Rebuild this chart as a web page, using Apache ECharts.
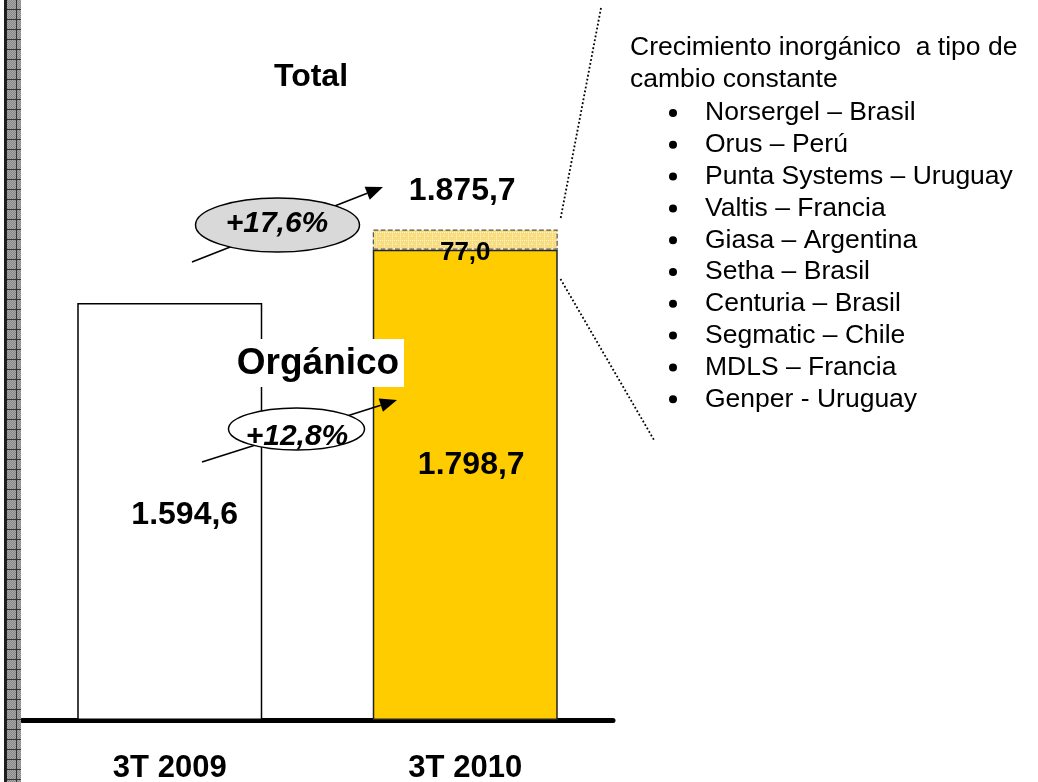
<!DOCTYPE html>
<html>
<head>
<meta charset="utf-8">
<script src="https://cdn.jsdelivr.net/npm/echarts@6/dist/echarts.min.js"></script>
<style>
  html, body { margin: 0; padding: 0; background: #fff; }
  #main { width: 1038px; height: 782px; }
</style>
</head>
<body>
<div id="main"></div>
<script>
// datos
const categories = ['3T 2009', '3T 2010'];
const organico = [1594.6, 1798.7];
const inorganico = [null, 77.0];
const total = [null, 1875.7];
const crecTotal = '+17,6%';
const crecOrganico = '+12,8%';
const tituloInorg = ['Crecimiento inorgánico  a tipo de', 'cambio constante'];
const adquisiciones = [
  'Norsergel – Brasil',
  'Orus – Perú',
  'Punta Systems – Uruguay',
  'Valtis – Francia',
  'Giasa – Argentina',
  'Setha – Brasil',
  'Centuria – Brasil',
  'Segmatic – Chile',
  'MDLS – Francia',
  'Genper - Uruguay'
];

const FONT = '"Liberation Sans", Arial, sans-serif';

// 1.594,6
function fmt(v) {
  let parts = v.toFixed(1).split('.');
  let ent = parts[0].replace(/\B(?=(\d{3})+(?!\d))/g, '.');
  return ent + ',' + parts[1];
}

// trama del tramo inorganico
function tramaAmarilla() {
  let c = document.createElement('canvas');
  c.width = 8; c.height = 8;
  let g = c.getContext('2d');
  g.fillStyle = '#F8DD80';
  g.fillRect(0, 0, 8, 8);
  g.fillStyle = '#FFF4CC';
  for (let i = 0; i < 8; i += 2) {
    g.fillRect(i, 0, 1, 1);
    g.fillRect(0, i, 1, 1);
  }
  g.fillStyle = '#FBE7A6';
  g.fillRect(3, 3, 2, 2);
  return c;
}

// franja gris de la izquierda
function tramaGris() {
  let c = document.createElement('canvas');
  c.width = 10; c.height = 10;
  let g = c.getContext('2d');
  for (let x = 0; x < 10; x++) {
    for (let y = 0; y < 10; y++) {
      g.fillStyle = (x + y) % 2 ? '#888888' : '#a8a8a8';
      g.fillRect(x, y, 1, 1);
    }
  }
  g.fillStyle = '#333333';
  g.fillRect(0, 9, 10, 1);
  g.fillRect(6, 0, 1, 10);
  return c;
}

function flecha(x1, y1, x2, y2) {
  let dx = x2 - x1, dy = y2 - y1;
  let len = Math.sqrt(dx * dx + dy * dy);
  let ux = dx / len, uy = dy / len;
  let bx = x2 - ux * 17, by = y2 - uy * 17;
  let px = -uy * 7, py = ux * 7;
  return [
    { type: 'line', z: 100, shape: { x1: x1, y1: y1, x2: bx, y2: by }, style: { stroke: '#000', lineWidth: 1.6 } },
    { type: 'polygon', z: 100, shape: { points: [[x2, y2], [bx + px, by + py], [bx - px, by - py]] }, style: { fill: '#000' } }
  ];
}

let graficos = [];
graficos.push({ type: 'rect', z: 100, shape: { x: 4, y: 0, width: 3, height: 782 }, style: { fill: '#1e1e1e' } });
graficos.push({ type: 'rect', z: 100, shape: { x: 7, y: 0, width: 14, height: 782 }, style: { fill: { image: tramaGris(), repeat: 'repeat' } } });

graficos.push({ type: 'text', z: 100, style: { text: 'Total', x: 311, y: 77, align: 'center', verticalAlign: 'middle', font: 'bold 32px ' + FONT, fill: '#000' } });

graficos = graficos.concat(flecha(192, 262, 383, 187));
graficos.push({ type: 'ellipse', z: 101, shape: { cx: 277.5, cy: 225, rx: 82, ry: 27 }, style: { fill: '#D9D9D9', stroke: '#000', lineWidth: 1.5 } });
graficos.push({ type: 'text', z: 102, style: { text: crecTotal, x: 277, y: 224, align: 'center', verticalAlign: 'middle', font: 'italic bold 30px ' + FONT, fill: '#000' } });

graficos.push({ type: 'rect', z: 100, shape: { x: 233, y: 339, width: 171, height: 48 }, style: { fill: '#fff' } });
graficos.push({ type: 'text', z: 101, style: { text: 'Orgánico', x: 318, y: 364, align: 'center', verticalAlign: 'middle', font: 'bold 37px ' + FONT, fill: '#000' } });

graficos = graficos.concat(flecha(202, 462, 397, 400));
graficos.push({ type: 'ellipse', z: 101, shape: { cx: 296.5, cy: 429, rx: 68, ry: 21 }, style: { fill: '#fff', stroke: '#000', lineWidth: 1.5 } });
graficos.push({ type: 'text', z: 102, style: { text: crecOrganico, x: 297, y: 437, align: 'center', verticalAlign: 'middle', font: 'italic bold 30px ' + FONT, fill: '#000' } });

// lineas punteadas hacia el tramo inorganico
graficos.push({ type: 'line', z: 100, shape: { x1: 601, y1: 8, x2: 560.5, y2: 219 }, style: { stroke: '#000', lineWidth: 1.8, lineDash: [1.8, 2.2] } });
graficos.push({ type: 'line', z: 100, shape: { x1: 560.5, y1: 279, x2: 654, y2: 440 }, style: { stroke: '#000', lineWidth: 1.8, lineDash: [1.8, 2.2] } });

tituloInorg.forEach(function (t, i) {
  graficos.push({ type: 'text', z: 100, style: { text: t, x: 630, y: 48 + i * 32, verticalAlign: 'middle', font: '26.5px ' + FONT, fill: '#000' } });
});
adquisiciones.forEach(function (t, i) {
  let y = 113 + i * 31.8;
  graficos.push({ type: 'circle', z: 100, shape: { cx: 673, cy: y, r: 4 }, style: { fill: '#000' } });
  graficos.push({ type: 'text', z: 100, style: { text: t, x: 705, y: y, verticalAlign: 'middle', font: '26.5px ' + FONT, fill: '#000' } });
});

const labelBase = { show: true, color: '#000', fontFamily: FONT, fontWeight: 'bold', fontSize: 32 };

const options = {
  animation: false,
  backgroundColor: '#fff',
  grid: { left: 22, width: 591, top: 197, bottom: 62, containLabel: false, outerBoundsMode: 'none' },
  xAxis: {
    type: 'category',
    data: categories,
    axisLine: { show: true, lineStyle: { color: '#000', width: 5 } },
    axisTick: { show: false },
    axisLabel: { color: '#000', fontFamily: FONT, fontWeight: 'bold', fontSize: 31, margin: 33 }
  },
  yAxis: {
    type: 'value',
    min: 0,
    max: 2000,
    show: false,
    splitLine: { show: false }
  },
  series: [
    {
      name: 'Orgánico',
      type: 'bar',
      stack: 'ventas',
      barWidth: 185,
      label: Object.assign({}, labelBase, {
        position: 'inside',
        formatter: function (p) { return fmt(p.value); }
      }),
      data: organico.map(function (v, i) {
        return {
          value: v,
          itemStyle: i === 0
            ? { color: '#fff', borderColor: '#000', borderWidth: 1.5 }
            : { color: '#FFCC00', borderColor: '#222', borderWidth: 1.5 },
          label: { offset: i === 0 ? [15, 4] : [6, -20] }
        };
      })
    },
    {
      name: 'Inorgánico',
      type: 'bar',
      stack: 'ventas',
      barWidth: 185,
      itemStyle: {
        color: { image: tramaAmarilla(), repeat: 'repeat' },
        borderColor: '#555',
        borderWidth: 1.2,
        borderType: 'dashed'
      },
      label: Object.assign({}, labelBase, {
        position: 'inside',
        fontSize: 26,
        offset: [0, 13],
        formatter: function (p) { return fmt(p.value); }
      }),
      data: inorganico
    },
    {
      name: 'Total',
      type: 'scatter',
      symbolSize: 0,
      itemStyle: { opacity: 1 },
      label: Object.assign({}, labelBase, {
        position: 'inside',
        offset: [-3, -38],
        formatter: function (p) { return fmt(p.value); }
      }),
      data: total
    }
  ],
  graphic: graficos
};

let chart = echarts.init(document.getElementById('main'));
chart.setOption(options);
</script>
</body>
</html>
